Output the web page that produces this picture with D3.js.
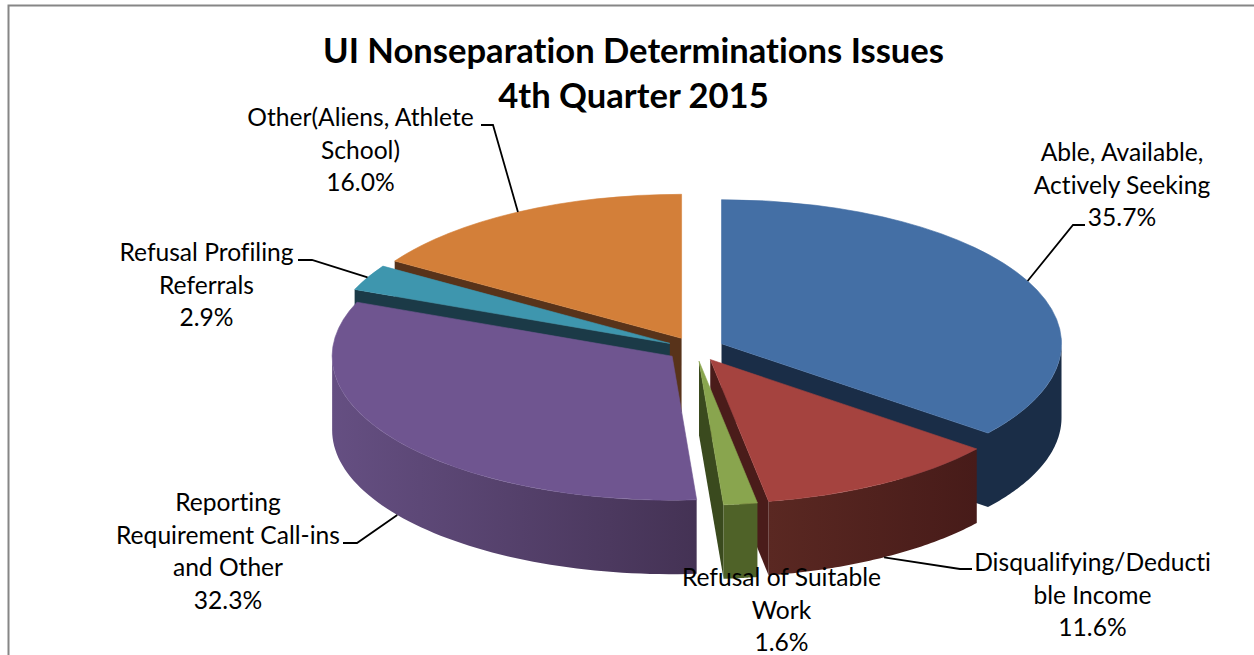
<!DOCTYPE html>
<html><head><meta charset="utf-8">
<script src="https://cdn.jsdelivr.net/npm/d3@7"></script>
<style>html,body{margin:0;padding:0;background:#fff;overflow:hidden}svg{display:block}text{font-family:Lato,Carlito,sans-serif;fill:#000;font-variant-ligatures:none}</style>
</head><body><svg id="c" width="1254" height="655"></svg>
<script>
const categories = ["Able, Available, Actively Seeking","Disqualifying/Deductible Income","Refusal of Suitable Work","Reporting Requirement Call-ins and Other","Refusal Profiling Referrals","Other(Aliens, Athlete School)"];
const values = [35.7,11.6,1.6,32.3,2.9,16.0];
const labelLines = [["Able, Available,","Actively Seeking"],["Disqualifying/Deducti","ble Income"],["Refusal of Suitable","Work"],["Reporting","Requirement Call-ins","and Other"],["Refusal Profiling","Referrals"],["Other(Aliens, Athlete","School)"]];
const topColors = ["#446fa5","#a5433f","#89a54e","#6f5590","#3e96ae","#d37f39"];
const edgeColors = ["#1a2d47","#4a1c1a","#3a4a1e","#46345a","#1b3a47","#58331a"];
const wallStops = [["#1a2d47","#1a2d47"],["#5a2822","#471b19"],["#4f6228","#4f6228"],["#654f82","#443254"],["#1b3a47","#1b3a47"],["#58331a","#58331a"]];

const labelPos = [[1122,161],[1092.5,571],[781.5,586],[228,511],[206.5,261],[360.5,126]];
const leaders = [[[1073,225],[1085,225]],[[960,569],[972,569]],null,[[357,543],[343,543]],[[312,260],[298,260]],[[493,125],[481,125]]];
const anchorDepth = [0,1,0,1,0,0];
const cutSide = ["endAngle","endAngle","endAngle",null,"startAngle","startAngle"];

const cx=695.5,cy=349,rx=340,ry=144,depth=74,explode=.085,lineH=32.5;
const svg=d3.select("#c");
svg.append("rect").attr("x",8.5).attr("y",5.5).attr("width",1300).attr("height",700).attr("fill","#fff").attr("stroke","#868686").attr("stroke-width",2);

const pie=d3.pie().sort(null).value(d=>d)(values);
const pt=(a,A,dy=0)=>[A[0]+rx*Math.sin(a),A[1]-ry*Math.cos(a)+dy];
const line=d3.line();
const slices=pie.map((p,i)=>{const mid=(p.startAngle+p.endAngle)/2;
  return {...p,i,mid,apex:[cx+explode*rx*Math.sin(mid),cy-explode*ry*Math.cos(mid)]};});
const defs=svg.append("defs");
const arc=d3.arc().innerRadius(0).outerRadius(rx);

function edgeWall(s,a){const A=s.apex,P=pt(a,A);
  return line([A,P,[P[0],P[1]+depth],[A[0],A[1]+depth]])+"Z";}
function outerWall(s){const a0=Math.max(s.startAngle,Math.PI/2),a1=Math.min(s.endAngle,Math.PI*1.5);
  if(a1<=a0)return null;
  const n=d3.range(0,61).map(k=>a0+(a1-a0)*k/60);
  const top=n.map(a=>pt(a,s.apex)),bot=n.map(a=>pt(a,s.apex,depth)).reverse();
  return {d:line(top.concat(bot))+"Z",x0:d3.min(top,d=>d[0]),x1:d3.max(top,d=>d[0])};}

// back to front: orange, teal, purple, blue, red, green
[5,4,3,0,1,2].forEach(i=>{const s=slices[i],g=svg.append("g");
  if(cutSide[i]) g.append("path").attr("d",edgeWall(s,s[cutSide[i]])).attr("fill",edgeColors[i]);
  const w=outerWall(s);
  if(w){const id="wall"+i;
    const lg=defs.append("linearGradient").attr("id",id).attr("gradientUnits","userSpaceOnUse").attr("x1",w.x0).attr("x2",w.x1).attr("y1",0).attr("y2",0);
    lg.append("stop").attr("offset",0).attr("stop-color",wallStops[i][0]);
    lg.append("stop").attr("offset",1).attr("stop-color",wallStops[i][1]);
    g.append("path").attr("d",w.d).attr("fill",`url(#${id})`);}
  g.append("path").attr("d",arc(s)).attr("transform",`translate(${s.apex[0]},${s.apex[1]}) scale(1,${ry/rx})`)
    .attr("fill",topColors[i]).attr("stroke",topColors[i]).attr("stroke-width",.6).attr("vector-effect","non-scaling-stroke");
});

// leader lines start on the slice edge at its bisector
slices.forEach((s,i)=>{if(!leaders[i])return;
  svg.append("path").attr("d",line([pt(s.mid,s.apex,anchorDepth[i]*depth),...leaders[i]])).attr("fill","none").attr("stroke","#000").attr("stroke-width",1.8);});

const title=svg.append("text").attr("text-anchor","middle").attr("font-weight",700).attr("font-size",34.6);
["UI Nonseparation Determinations Issues","4th Quarter 2015"].forEach((t,k)=>title.append("tspan").attr("x",633.5).attr("y",63+k*45).text(t));

labelLines.forEach((ls,i)=>{const t=svg.append("text").attr("text-anchor","middle").attr("font-size",24.6);
  ls.concat(values[i].toFixed(1)+"%").forEach((l,k)=>t.append("tspan").attr("x",labelPos[i][0]).attr("y",labelPos[i][1]+k*lineH).text(l));});
</script></body></html>
